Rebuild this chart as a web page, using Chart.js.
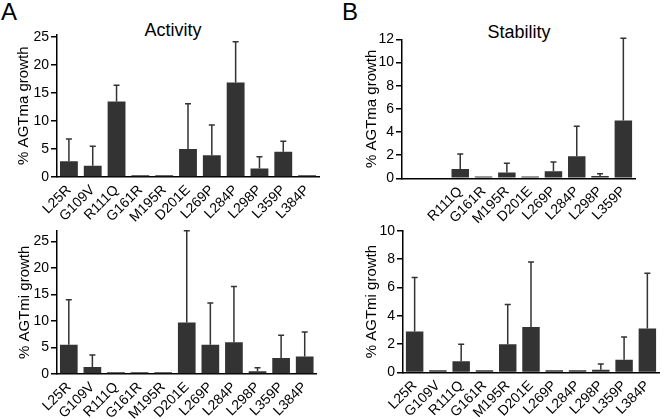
<!DOCTYPE html>
<html>
<head>
<meta charset="utf-8">
<script src="https://cdn.jsdelivr.net/npm/chart.js@4"></script>
<style>
  body { margin: 0; background: #fff; }
  #fig { position: relative; width: 667px; height: 419px; font-family: "Liberation Sans", Arial, sans-serif; color: #000; }
  #fig canvas { position: absolute; }
  .letter { position: absolute; font-size: 24px; line-height: 1; }
  .title { position: absolute; font-size: 18px; line-height: 1; width: 120px; text-align: center; }
</style>
</head>
<body>
<div id="fig">
  <div class="letter" style="left:1px;top:0px">A</div>
  <div class="letter" style="left:342px;top:0px">B</div>
  <div class="title" style="left:113px;top:21px">Activity</div>
  <div class="title" style="left:459px;top:23px">Stability</div>
  <canvas id="actMa"></canvas>
  <canvas id="stabMa"></canvas>
  <canvas id="actMi"></canvas>
  <canvas id="stabMi"></canvas>
</div>
<script>
// 変異体ラベル
const mutants = ['L25R', 'G109V', 'R111Q', 'G161R', 'M195R', 'D201E', 'L269P', 'L284P', 'L298P', 'L359P', 'L384P'];
const stabMaLabels = ['', '', 'R111Q', 'G161R', 'M195R', 'D201E', 'L269P', 'L284P', 'L298P', 'L359P'];

// 平均値と標準偏差 (%)
const actMaMean = [2.8, 2.0, 13.5, 0.3, 0.3, 5.0, 3.9, 16.9, 1.5, 4.5, 0.3];
const actMaSd   = [4.0, 3.5, 2.9, null, null, 8.1, 5.4, 7.3, 2.1, 1.9, null];

const stabMaMean = [null, null, 0.8, 0.15, 0.5, 0.15, 0.6, 1.9, 0.2, 5.0];
const stabMaSd   = [null, null, 1.3, null, 0.8, null, 0.8, 2.6, 0.2, 7.1];

const actMiMean = [5.5, 1.3, 0.35, 0.35, 0.35, 9.7, 5.5, 6.0, 0.5, 3.0, 3.3];
const actMiSd   = [8.5, 2.3, null, null, null, 17.3, 7.9, 10.5, 0.7, 4.3, 4.6];

const stabMiMean = [2.9, 0.15, 0.8, 0.15, 2.0, 3.2, 0.15, 0.15, 0.2, 0.9, 3.1];
const stabMiSd   = [3.8, null, 1.2, null, 2.8, 4.6, null, null, 0.4, 1.6, 3.9];

// エラーバー (上側のみ) を描くプラグイン
const errorBars = {
    id: 'errorBars',
    afterDatasetsDraw(chart) {
        const ds = chart.data.datasets[0];
        const meta = chart.getDatasetMeta(0);
        const yScale = chart.scales.y;
        const ctx = chart.ctx;
        ctx.save();
        ctx.strokeStyle = '#333';
        ctx.lineWidth = 1.5;
        meta.data.forEach((bar, i) => {
            const sd = ds.errors[i];
            if (sd == null || ds.data[i] == null) return;
            const top = yScale.getPixelForValue(ds.data[i] + sd);
            ctx.beginPath();
            ctx.moveTo(bar.x, bar.y);
            ctx.lineTo(bar.x, top);
            ctx.moveTo(bar.x - 3, top);
            ctx.lineTo(bar.x + 3, top);
            ctx.stroke();
        });
        ctx.restore();
    }
};

// box: キャンバス位置と軸の位置 (ページ座標)
function makeChart(id, box, labels, values, errors, yMax, yStep, yTitle) {
    const cv = document.getElementById(id);
    cv.width = box.w;
    cv.height = box.h;
    cv.style.left = box.x + 'px';
    cv.style.top = box.y + 'px';
    return new Chart(cv, {
        type: 'bar',
        data: {
            labels: labels,
            datasets: [{
                data: values,
                errors: errors,
                backgroundColor: '#333333',
                borderWidth: 0,
                categoryPercentage: 1,
                barPercentage: 0.75
            }]
        },
        options: {
            responsive: false,
            animation: false,
            layout: { padding: { left: 0, top: box.aT - box.y, right: box.x + box.w - box.aR, bottom: 0 } },
            plugins: { legend: { display: false }, tooltip: { enabled: false } },
            scales: {
                x: {
                    grid: { display: false, drawTicks: false },
                    border: { display: true, color: '#000', width: 1.5 },
                    ticks: { color: '#000', font: { size: 14 }, minRotation: 45, maxRotation: 45, autoSkip: false, padding: 5 },
                    afterFit: s => { s.height = box.y + box.h - box.aB; }
                },
                y: {
                    min: 0,
                    max: yMax,
                    grid: { display: true, drawOnChartArea: false, drawTicks: true, tickLength: 6, color: '#000', lineWidth: 1.5 },
                    border: { display: true, color: '#000', width: 1.5 },
                    ticks: { color: '#000', font: { size: 14 }, padding: 2 },
                    // 目盛りは yStep ごと (軸の上端は目盛りなし)
                    afterBuildTicks: s => {
                        const t = [];
                        for (let v = 0; v <= yMax + 1e-9; v += yStep) t.push({ value: v });
                        s.ticks = t;
                    },
                    title: { display: true, text: yTitle, color: '#000', font: { size: 15 }, padding: { top: box.tX - box.x - 9, bottom: 0 } },
                    afterFit: s => { s.width = box.aL - box.x; }
                }
            }
        },
        plugins: [errorBars]
    });
}

Chart.defaults.font.family = '"Liberation Sans", Arial, sans-serif';

makeChart('actMa',  { x: 0,   y: 24,  w: 333, h: 202, aL: 57,  aR: 319, aT: 33.5,  aB: 177,   tX: 24 },
    mutants, actMaMean, actMaSd, 25.5, 5, '% AGTma growth');
makeChart('stabMa', { x: 333, y: 29,  w: 334, h: 197, aL: 402, aR: 635, aT: 39,    aB: 178.3, tX: 372 },
    stabMaLabels, stabMaMean, stabMaSd, 12, 2, '% AGTma growth');
makeChart('actMi',  { x: 0,   y: 220, w: 333, h: 199, aL: 57,  aR: 316.5, aT: 230.7, aB: 374, tX: 24.5 },
    mutants, actMiMean, actMiSd, 27, 5, '% AGTmi growth');
makeChart('stabMi', { x: 333, y: 220, w: 334, h: 199, aL: 403, aR: 659, aT: 230.7, aB: 372.5, tX: 372 },
    mutants, stabMiMean, stabMiSd, 10, 2, '% AGTmi growth');
</script>
</body>
</html>
